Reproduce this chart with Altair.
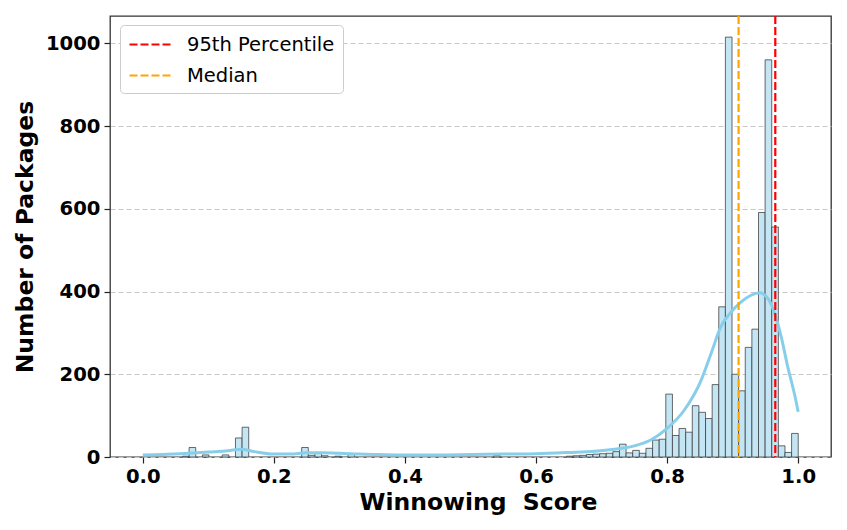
import altair as alt
import pandas as pd

# ---- data ----
N_BINS = 99  # histogram bins spanning 0..1
bin_index = [6, 7, 9, 12, 14, 15, 24, 25, 26, 27, 29, 31, 53, 64, 65, 66, 67, 68, 69, 70,
             71, 72, 73, 74, 75, 76, 77, 78, 79, 80, 81, 82, 83, 84, 85, 86, 87, 88, 89,
             90, 91, 92, 93, 94, 95, 96, 97, 98]
bin_count = [2, 23, 5, 5, 46, 72, 23, 4, 10, 3, 2, 6, 3, 2, 3, 4, 6, 7, 8, 9,
             13, 31, 10, 16, 9, 21, 41, 43, 152, 52, 69, 60, 124, 108, 93, 175, 363, 1015, 200,
             160, 265, 309, 591, 960, 556, 27, 11, 57]

kde_x = [0.0, 0.03, 0.07, 0.10, 0.13, 0.15, 0.17, 0.20, 0.225, 0.25, 0.275, 0.30, 0.33,
         0.36, 0.40, 0.45, 0.50, 0.55, 0.60, 0.65, 0.69, 0.72, 0.75, 0.775, 0.80, 0.826,
         0.852, 0.867, 0.882, 0.898, 0.913, 0.928, 0.941, 0.954, 0.964, 0.974, 0.984,
         0.994, 1.0]
kde_y = [5, 6, 9, 12, 15, 19, 13, 7, 7, 10, 10, 9, 7,
         6, 5, 5, 6, 7, 8, 11, 14, 19, 27, 41, 69, 113,
         186, 250, 315, 351, 375, 391, 397, 383, 347, 291, 218,
         154, 109]

line_names = ["95th Percentile", "Median"]
line_values = [0.965, 0.909]
line_colors = ["#ff0000", "#ffa500"]

x_ticks = [0.0, 0.2, 0.4, 0.6, 0.8, 1.0]
y_ticks = [0, 200, 400, 600, 800, 1000]

# ---- tables ----
hist = pd.DataFrame({
    "start": [i / N_BINS for i in bin_index],
    "end": [(i + 1) / N_BINS for i in bin_index],
    "count": bin_count,
})
kde = pd.DataFrame({"score": kde_x, "density": kde_y})
lines = pd.DataFrame({"name": line_names, "value": line_values})

FONT = "DejaVu Sans"
x_scale = alt.Scale(domain=[-0.05, 1.05], nice=False, zero=False)
y_scale = alt.Scale(domain=[0, 1066], nice=False)

x_axis = alt.Axis(values=x_ticks, format=".1f", grid=False, title="Winnowing\u00a0 Score",
                  titlePadding=5, titleX=368, titleAlign="center")
y_axis = alt.Axis(values=y_ticks, format="d", grid=True, gridDash=[5, 3],
                  gridColor="#c8c8c8", gridWidth=1, title="Number of Packages",
                  titlePadding=8)

bars = alt.Chart(hist).mark_bar(
    fill="#c3e5f4", stroke="#3a3a3a", strokeWidth=1, strokeOpacity=0.75
).encode(
    x=alt.X("start:Q", scale=x_scale, axis=x_axis),
    x2="end:Q",
    y=alt.Y("count:Q", scale=y_scale, axis=y_axis),
    y2=alt.datum(0),
)

kde_line = alt.Chart(kde).mark_line(
    color="#87ceeb", strokeWidth=3, interpolate="monotone"
).encode(
    x=alt.X("score:Q", scale=x_scale),
    y=alt.Y("density:Q", scale=y_scale),
)

rules = alt.Chart(lines).mark_rule(strokeDash=[8, 3], strokeWidth=2.2).encode(
    x=alt.X("value:Q", scale=x_scale),
    color=alt.Color(
        "name:N",
        scale=alt.Scale(domain=line_names, range=line_colors),
        legend=alt.Legend(
            title=None, orient="none", legendX=10, legendY=9,
            symbolType="M-2.1,0H2.1", symbolSize=400, symbolStrokeWidth=2.2,
            symbolDash=[8, 3], symbolOffset=11,
            labelFontSize=19.5, labelFont=FONT,
            labelColor="black", labelOffset=25, rowPadding=10, padding=8,
            fillColor="white", strokeColor="#cccccc", cornerRadius=4,
        ),
    ),
)

chart = alt.layer(bars, kde_line, rules).properties(
    width=721, height=441,
    autosize=alt.AutoSizeParams(type="none"),
    padding={"left": 102, "top": 8, "right": 8, "bottom": 64},
).configure_view(
    stroke="#333333", strokeWidth=1.3
).configure_axis(
    labelFont=FONT, labelFontWeight="bold", labelFontSize=19.6, labelColor="black",
    titleFont=FONT, titleFontWeight="bold", titleFontSize=23.5, titleColor="black",
    tickColor="#222222", tickSize=6, tickWidth=1.2, domain=False, labelPadding=4,
)

chart.save("out.html", embed_options={"renderer": "svg", "actions": False})
